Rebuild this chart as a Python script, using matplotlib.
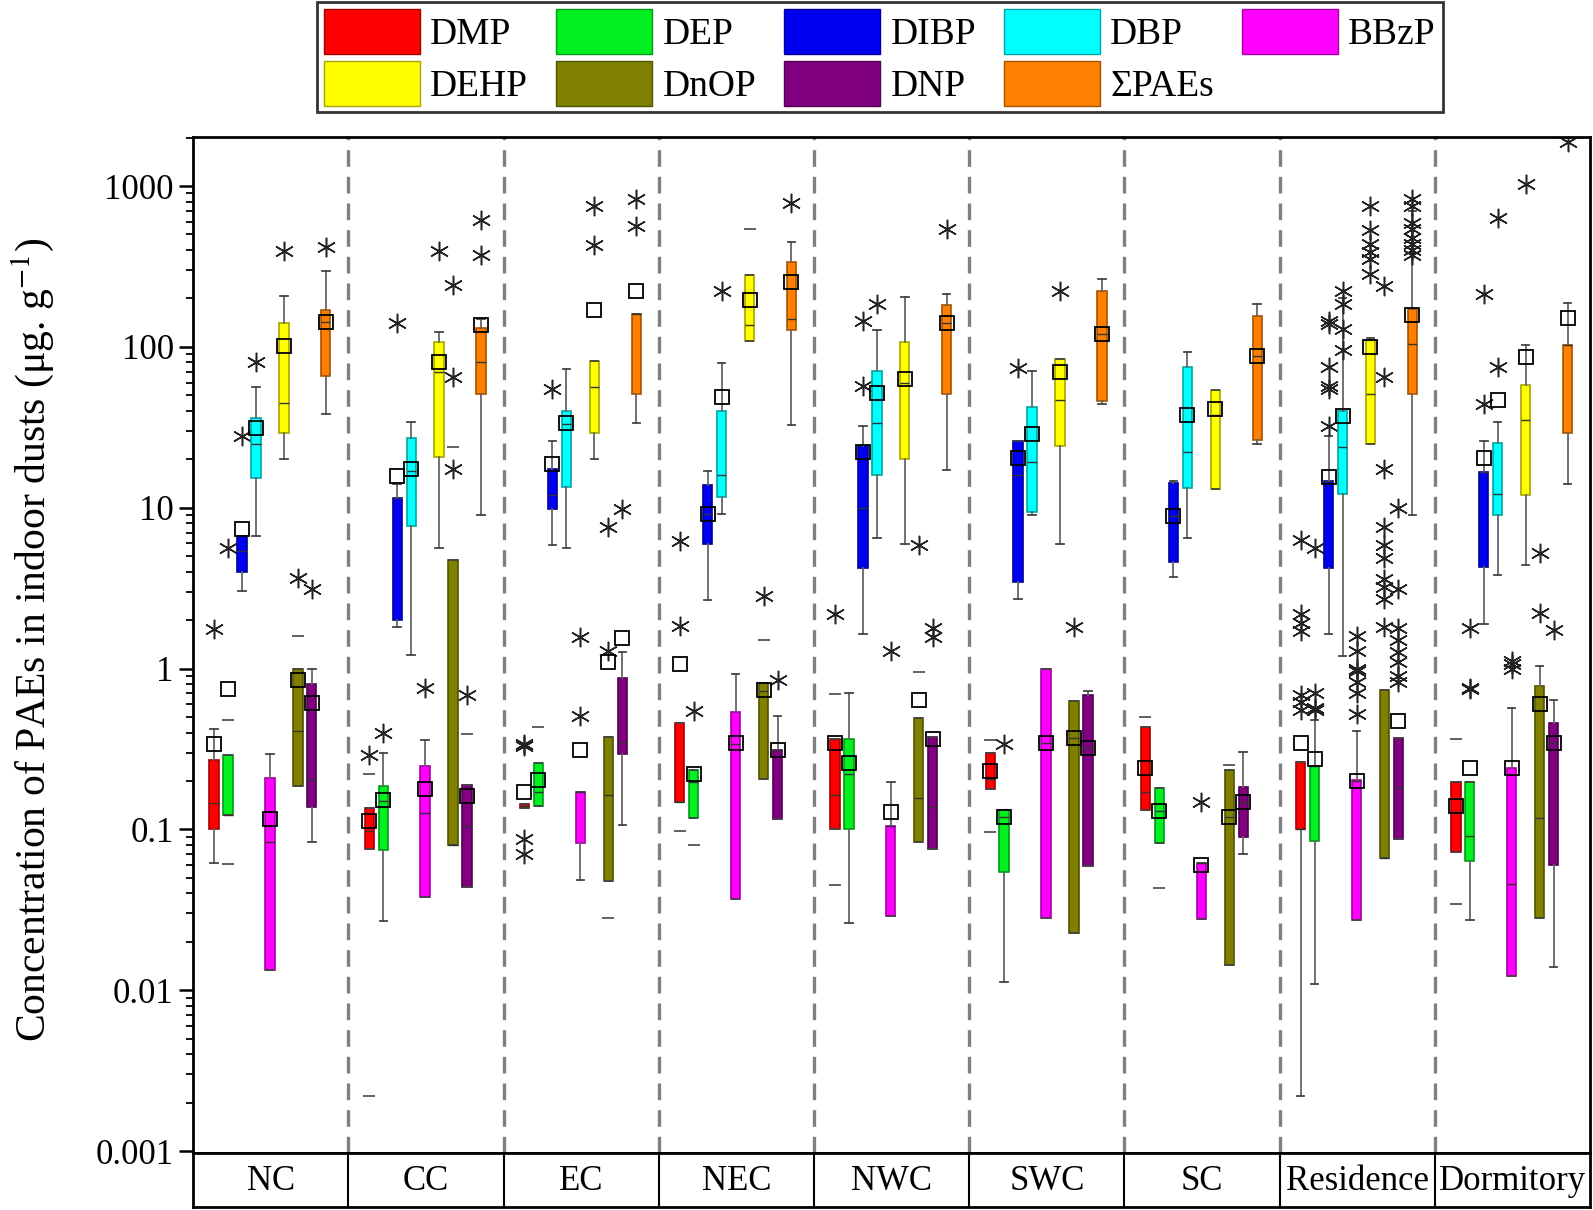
import matplotlib.pyplot as plt
import numpy as np
from matplotlib.patches import Patch
from matplotlib.ticker import FixedLocator, LogLocator, NullFormatter

plt.rcParams['font.family'] = ['Liberation Serif', 'DejaVu Serif']
plt.rcParams['mathtext.fontset'] = 'stix'

groups = ['NC', 'CC', 'EC', 'NEC', 'NWC', 'SWC', 'SC', 'Residence', 'Dormitory']
compounds = ['DMP', 'DEP', 'DIBP', 'DBP', 'BBzP', 'DEHP', 'DnOP', 'DNP', 'ΣPAEs']
colors = ['#FF0000', '#00F020', '#0000F0', '#00FFFF', '#FF00FF',
          '#FFFF00', '#808000', '#800080', '#FF8000']
nan = np.nan

# rows = compounds, columns = groups (NC ... Dormitory)
q1 = [
    [0.10, 0.076, 0.135, 0.147, 0.10, 0.177, 0.132, 0.10, 0.072],
    [0.122, 0.074, 0.139, 0.117, 0.10, 0.054, 0.082, 0.085, 0.064],
    [4.0, 2.0, 9.77, 5.93, 4.24, 3.43, 4.58, 4.24, 4.29],
    [15.2, 7.7, 13.5, 11.6, 15.9, 9.46, 13.2, 12.2, 9.0],
    [0.0134, 0.038, 0.082, 0.037, 0.0288, 0.0283, 0.0277, 0.0272, 0.0123],
    [29, 20.6, 29, 109, 20, 24.2, 13, 24.8, 12],
    [0.187, 0.08, 0.048, 0.206, 0.084, 0.0226, 0.0143, 0.066, 0.028],
    [0.138, 0.044, 0.296, 0.116, 0.076, 0.059, 0.089, 0.087, 0.06],
    [66, 50.7, 50.7, 128, 50.7, 46, 26.3, 50.7, 29],
]
med = [
    [0.145, 0.098, 0.14, 0.147, 0.163, 0.206, 0.17, 0.10, 0.128],
    [0.122, 0.15, 0.17, 0.198, 0.22, 0.12, 0.13, 0.248, 0.091],
    [5.35, 11.5, 12, 9.2, 10, 15.9, 8.9, 14.6, 16.6],
    [25, 17, 33, 15.9, 33.4, 19.3, 22.3, 23.7, 12.1],
    [0.084, 0.127, 0.17, 0.34, 0.105, 0.342, 0.062, 0.2, 0.0458],
    [45, 70, 56, 136, 60, 46.8, 37.8, 50.7, 35],
    [0.41, 0.08, 0.163, 0.72, 0.157, 0.37, 0.12, 0.066, 0.117],
    [0.203, 0.105, 0.35, 0.31, 0.138, 0.32, 0.147, 0.18, 0.344],
    [142, 81, 160, 150, 140, 121, 87.5, 104, 103],
]
q3 = [
    [0.27, 0.136, 0.144, 0.46, 0.362, 0.30, 0.435, 0.262, 0.198],
    [0.29, 0.187, 0.258, 0.234, 0.362, 0.132, 0.18, 0.248, 0.198],
    [6.7, 11.5, 17.5, 13.8, 24.2, 25.8, 14.2, 14.6, 16.6],
    [36, 27.3, 40, 40, 70.5, 42.5, 74.7, 39.8, 25.1],
    [0.208, 0.248, 0.17, 0.54, 0.105, 0.99, 0.062, 0.203, 0.241],
    [140, 107, 82, 281, 107, 84, 54, 111, 57.7],
    [0.99, 4.73, 0.377, 0.81, 0.49, 0.625, 0.233, 0.73, 0.78],
    [0.80, 0.19, 0.875, 0.31, 0.377, 0.68, 0.184, 0.37, 0.458],
    [169, 131, 160, 338, 181, 221, 156, 173, 103],
]
mean = [
    [0.34, 0.113, 0.17, 1.07, 0.342, 0.23, 0.242, 0.342, 0.14],
    [0.75, 0.153, 0.203, 0.22, 0.26, 0.12, 0.13, 0.275, 0.241],
    [7.4, 15.8, 18.6, 9.2, 22.3, 20.3, 8.9, 15.6, 20.5],
    [31.5, 17.3, 33.4, 48.8, 52, 28.9, 37.7, 36.9, 47],
    [0.116, 0.177, 0.31, 0.342, 0.128, 0.342, 0.06, 0.2, 0.24],
    [101, 80, 169, 195, 63.5, 70, 40.8, 100, 86],
    [0.85, nan, 1.1, 0.73, 0.636, 0.37, 0.12, nan, 0.6],
    [0.61, 0.162, 1.55, 0.31, 0.365, 0.32, 0.147, 0.47, 0.344],
    [142, 136, 224, 253, 140, 121, 87.5, 158, 151],
]
whislo = [
    [0.062, 0.076, 0.135, 0.147, 0.10, 0.177, 0.132, 0.0022, 0.072],
    [0.122, 0.027, 0.139, 0.117, 0.026, 0.0112, 0.082, 0.011, 0.0273],
    [3.04, 1.8, 5.9, 2.65, 1.64, 2.7, 3.7, 1.64, 1.88],
    [6.7, 1.21, 5.6, 9.2, 6.5, 9.0, 6.5, 1.2, 3.8],
    [0.0134, 0.038, 0.0485, 0.037, 0.0288, 0.0283, 0.0277, 0.0272, 0.0123],
    [20, 5.6, 20, 109, 5.93, 5.93, 13, 24.8, 4.4],
    [0.187, 0.08, 0.048, 0.206, 0.084, 0.0226, 0.0143, 0.066, 0.028],
    [0.084, 0.044, 0.107, 0.116, 0.076, 0.059, 0.07, 0.087, 0.0139],
    [38.5, 9.0, 33.4, 32.6, 17.1, 44, 25, 9.0, 14.1],
]
whishi = [
    [0.42, 0.136, 0.144, 0.46, 0.362, 0.30, 0.435, 0.262, 0.198],
    [0.29, 0.30, 0.258, 0.234, 0.70, 0.132, 0.18, 0.48, 0.198],
    [6.7, 14, 26, 17, 32, 25.8, 14.6, 28, 26],
    [56, 34, 73, 79, 128, 70.5, 92.7, 200, 34],
    [0.296, 0.36, 0.17, 0.93, 0.198, 0.99, 0.062, 0.41, 0.57],
    [208, 123, 82, 281, 204, 84, 54, 114, 102],
    [0.99, 4.73, 0.377, 0.81, 0.49, 0.625, 0.233, 0.73, 1.04],
    [1.0, 0.19, 1.26, 0.51, 0.377, 0.72, 0.303, 0.37, 0.64],
    [297, 150, 160, 448, 212, 263, 184, 700, 188],
]
# asterisk outliers
outliers = [
    [[1.75], [0.29], [0.33, 0.34, 0.087, 0.070], [6.2, 1.85], [2.17], [], [],
     [6.3, 2.17, 1.93, 1.71, 0.68, 0.62, 0.55], []],
    [[5.6], [0.40], [], [0.546], [], [0.34], [], [5.6, 0.7, 0.57, 0.55], [0.75, 0.76, 1.78]],
    [[28], [140], [55], [], [145, 57], [73.5], [], [145, 138, 74.7, 57, 55, 32], [213, 44]],
    [[81], [], [], [221], [184], [], [], [224, 184, 129, 95], [637, 75]],
    [[], [0.76], [1.57, 0.51], [], [1.29], [], [0.147],
     [1.6, 1.29, 1.0, 0.97, 0.83, 0.7, 0.52], [1.0, 1.06, 1.12]],
    [[397], [397], [755, 430], [], [], [221], [], [755, 534, 437, 387, 352, 285], [1030]],
    [[3.66], [243, 64.6, 17.5], [7.55, 1.29], [2.81], [5.9], [1.81], [],
     [240, 64.6, 17.5, 7.6, 5.9, 4.9, 3.6, 3.2, 2.7, 1.81], [5.2, 2.22]],
    [[3.12], [0.68], [9.85], [0.85], [1.78, 1.57], [], [],
     [9.9, 3.1, 1.78, 1.5, 1.27, 1.1, 0.9, 0.83], [1.73]],
    [[420], [612, 373], [832, 565], [780], [543], [], [],
     [832, 750, 588, 543, 474, 437, 403, 373], [1885]],
]
# min / max dash marks
dashes = [
    [[], [0.22, 0.0022], [], [0.098], [0.69, 0.045], [0.36, 0.096], [0.5], [], [0.364, 0.0344]],
    [[0.48, 0.061], [], [0.43], [0.08], [], [], [0.0434], [], []],
    [[], [], [], [], [], [], [], [], []],
    [[], [], [], [], [], [], [], [], []],
    [[], [], [], [], [], [], [], [], []],
    [[], [], [], [543], [], [], [], [], []],
    [[1.59], [23.8], [0.028], [1.5], [0.95], [], [0.25], [], []],
    [[], [0.39], [], [], [], [], [], [], []],
    [[], [], [], [], [], [], [], [], []],
]

fig = plt.figure(figsize=(15.93, 12.10), dpi=100)
ax = fig.add_axes([0.1212, 0.0471, 0.877, 0.8397])
ax.set_yscale('log')
ax.set_xlim(0, 9)
ax.set_ylim(10 ** (-3 - 2 / 160.8), 10 ** 3.305)

width = 0.06
for k, name in enumerate(compounds):
    col = np.array(plt.matplotlib.colors.to_rgb(colors[k]))
    edge = col * 0.65
    stats = []
    for g in range(len(groups)):
        stats.append(dict(q1=q1[k][g], med=med[k][g], q3=q3[k][g], mean=mean[k][g],
                          whislo=whislo[k][g], whishi=whishi[k][g], fliers=outliers[k][g]))
    pos = np.arange(len(groups)) + 0.135 + 0.09 * k
    ax.bxp(stats, positions=pos, widths=width, patch_artist=True, showmeans=True,
           showfliers=True, manage_ticks=False, capwidths=width * 0.8,
           boxprops=dict(facecolor=colors[k], edgecolor=edge, linewidth=1.2),
           medianprops=dict(color='#333333', linewidth=1.0),
           whiskerprops=dict(color='#666666', linewidth=1.3),
           capprops=dict(color='#444444', linewidth=1.3),
           meanprops=dict(marker='s', markerfacecolor='none', markeredgecolor='black',
                          markersize=10, markeredgewidth=1.3),
           flierprops=dict(marker=(6, 2, 0), markersize=14, markeredgecolor='#222222',
                           markeredgewidth=1.1, linestyle='none'))
    for g in range(len(groups)):
        if dashes[k][g]:
            ax.plot([pos[g]] * len(dashes[k][g]), dashes[k][g], linestyle='none',
                    marker='_', markersize=9, markeredgewidth=1.3, color='#555555')

for i in range(1, len(groups)):
    ax.axvline(i, color='#808080', linewidth=2.4, linestyle=(0, (5, 3)), zorder=0)

ax.set_xticks([])
ax.yaxis.set_major_locator(FixedLocator([0.001, 0.01, 0.1, 1, 10, 100, 1000]))
ax.set_yticklabels(['0.001', '0.01', '0.1', '1', '10', '100', '1000'])
ax.yaxis.set_minor_locator(LogLocator(base=10, subs=np.arange(2, 10)))
ax.yaxis.set_minor_formatter(NullFormatter())
ax.tick_params(axis='y', which='major', direction='out', length=10, width=1.8,
               labelsize=25, pad=4)
ax.tick_params(axis='y', which='minor', direction='out', length=5, width=1.3)
for s in ax.spines.values():
    s.set_linewidth(2)
    s.set_color('black')

# category table under the plot
tab = fig.add_axes([0.1212, 0.0025, 0.877, 0.0446])
tab.set_xlim(0, 9)
tab.set_ylim(0, 1)
for i in range(1, len(groups)):
    tab.axvline(i, color='black', linewidth=1.5)
for i, gname in enumerate(groups):
    tab.text(i + 0.5, 0.48, gname, ha='center', va='center', fontsize=25)
tab.set_xticks([])
tab.set_yticks([])
for s in tab.spines.values():
    s.set_linewidth(2)

fig.text(0.0204, 0.471, 'Concentration of PAEs in indoor dusts (μg. g$^{-1}$)',
         rotation=90, ha='center', va='center', fontsize=30)

order = [0, 5, 1, 6, 2, 7, 3, 8, 4]
handles = [Patch(facecolor=colors[i],
                 edgecolor=tuple(np.array(plt.matplotlib.colors.to_rgb(colors[i])) * 0.65),
                 label=compounds[i]) for i in order]
leg = fig.legend(handles=handles, loc='upper center', bbox_to_anchor=(0.5524, 0.998),
                 ncol=5, fontsize=27, frameon=True, fancybox=False, edgecolor='black',
                 handlelength=2.55, handleheight=1.45, handletextpad=0.28,
                 columnspacing=0.75, labelspacing=0.2, borderpad=0.18, borderaxespad=0)
leg.get_frame().set_linewidth(2)

fig.savefig('out.png', dpi=100)
